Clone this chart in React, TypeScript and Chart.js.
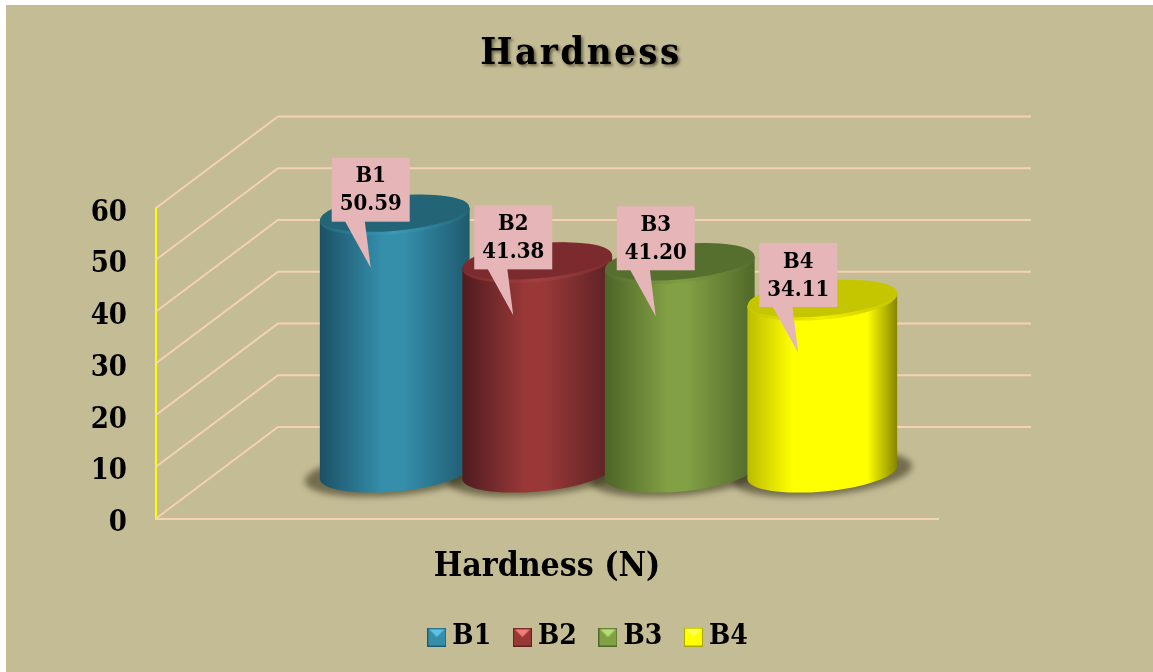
import React, { useEffect, useRef } from "react";
import { Chart, registerables } from "chart.js";

Chart.register(...registerables);

const categories = ["Hardness (N)"];
const seriesNames = ["B1", "B2", "B3", "B4"];
const b1Values = [50.59];
const b2Values = [41.38];
const b3Values = [41.2];
const b4Values = [34.11];
const chartTitle = "Hardness";
const seriesValues = [b1Values, b2Values, b3Values, b4Values];

const faceColors = ["#358fab", "#9a3838", "#82a044", "#ffff00"];
const edgeLeft = ["#1b5165", "#4f1c1f", "#4d6427", "#bcbc00"];
const edgeRight = ["#1f5a70", "#5a2124", "#506829", "#858500"];
const capColors = ["#236577", "#7b2b2d", "#566f2e", "#c6c600"];
const rimColors = ["#3d9ab8", "#a23f40", "#7e9d42", "#eeee00"];
const iconLight = ["#5cc3e4", "#f07c7c", "#b8dc78", "#ffff50"];
const iconDark = ["#1f5a70", "#5f2224", "#4f6628", "#a8a800"];
const faceStart = [0.42, 0.42, 0.42, 0.3];
const faceEnd = [0.55, 0.55, 0.55, 0.8];

const PAGE = "#c4bc95";
const FONT = "'DejaVu Serif Condensed', 'DejaVu Serif', serif";

function makeIcon(i: number) {
  const c = document.createElement("canvas");
  c.width = 19;
  c.height = 19;
  const g = c.getContext("2d")!;
  g.fillStyle = iconDark[i];
  g.fillRect(0, 0, 19, 19);
  g.fillStyle = faceColors[i];
  g.fillRect(1, 1, 17, 17);
  g.fillStyle = iconLight[i];
  g.beginPath();
  g.moveTo(2, 2);
  g.lineTo(17, 2);
  g.lineTo(9.5, 9.5);
  g.closePath();
  g.fill();
  return c;
}

const DX = 61.5;
const DY = 46;
const CAP_DY = 41.5;
const TILT = -0.09;
const RY = 19;

const scenePlugin = {
  id: "scene",
  afterLayout(chart: any) {
    const t = chart.titleBlock;
    t.left = 0;
    t.right = 1162;
    const l = chart.legend;
    l.left = 0;
    l.right = 1183.1;
    l.top = 593.3;
    l.bottom = 672;
    if (!t._patched) {
      t._patched = true;
      const d = t.draw.bind(t);
      t.draw = () => {
        const ctx = chart.ctx;
        ctx.save();
        ctx.letterSpacing = "2.5px";
        ctx.shadowColor = "rgba(30,30,10,0.55)";
        ctx.shadowOffsetX = 2;
        ctx.shadowOffsetY = 2;
        ctx.shadowBlur = 3;
        d();
        ctx.restore();
      };
    }
  },
  beforeDraw(chart: any) {
    const ctx = chart.ctx;
    ctx.save();
    ctx.fillStyle = "#ffffff";
    ctx.fillRect(0, 0, chart.width, chart.height);
    ctx.fillStyle = PAGE;
    ctx.fillRect(6, 5, chart.width - 6, chart.height - 5);
    ctx.restore();
  },
  beforeDatasetsDraw(chart: any) {
    const ctx = chart.ctx;
    const y = chart.scales.y;
    const { left } = chart.chartArea;
    ctx.save();
    ctx.strokeStyle = "#f5d2b2";
    ctx.lineWidth = 2;
    y.ticks.forEach((t: any) => {
      const py = y.getPixelForValue(t.value);
      ctx.beginPath();
      ctx.moveTo(left, py);
      ctx.lineTo(left + 122, py - 91.5);
      ctx.lineTo(1031, py - 91.5);
      ctx.stroke();
    });
    ctx.restore();
  },
  beforeDatasetDraw() {
    return false;
  },
  afterDatasetsDraw(chart: any) {
    const ctx = chart.ctx;
    const cos = Math.cos(TILT);
    const bars = seriesNames.map((_, i) => chart.getDatasetMeta(i).data[0]);

    bars.forEach((b: any) => {
      const cx = b.x + DX;
      const by = b.base - DY;
      const rx = b.width / 2;
      ctx.save();
      ctx.filter = "blur(3px)";
      ctx.fillStyle = "rgba(48,44,20,0.55)";
      ctx.beginPath();
      ctx.ellipse(cx, by + 1, rx + 15, RY + 3, TILT, 0, Math.PI * 2);
      ctx.fill();
      ctx.restore();
    });

    bars.forEach((b: any, i: number) => {
      const cx = b.x + DX;
      const by = b.base - DY;
      const ty = b.y - CAP_DY;
      const rx = b.width / 2;
      const g = ctx.createLinearGradient(cx - rx * cos, 0, cx + rx * cos, 0);
      g.addColorStop(0, edgeLeft[i]);
      g.addColorStop(faceStart[i], faceColors[i]);
      g.addColorStop(faceEnd[i], faceColors[i]);
      g.addColorStop(1, edgeRight[i]);
      ctx.save();
      ctx.fillStyle = g;
      ctx.beginPath();
      ctx.ellipse(cx, by, rx, RY, TILT, 0, Math.PI);
      ctx.ellipse(cx, ty, rx, RY, TILT, Math.PI, Math.PI * 2);
      ctx.closePath();
      ctx.fill();
      const rimG = ctx.createLinearGradient(cx - rx * cos, 0, cx + rx * cos, 0);
      rimG.addColorStop(0, capColors[i]);
      rimG.addColorStop(0.5, rimColors[i]);
      rimG.addColorStop(1, capColors[i]);
      ctx.fillStyle = rimG;
      ctx.beginPath();
      ctx.ellipse(cx, ty, rx, RY, TILT, 0, Math.PI * 2);
      ctx.fill();
      ctx.fillStyle = capColors[i];
      ctx.beginPath();
      ctx.ellipse(cx, ty - 2, rx - 0.5, RY - 1.5, TILT, 0, Math.PI * 2);
      ctx.fill();
      ctx.restore();
    });

    bars.forEach((b: any, i: number) => {
      const cx = b.x + DX;
      const ty = b.y - CAP_DY;
      const rl = cx - 63;
      const rt = ty - 57.5;
      ctx.save();
      ctx.fillStyle = "#e5b5b7";
      ctx.fillRect(rl, rt, 78, 64);
      ctx.beginPath();
      ctx.moveTo(rl + 13, rt + 63);
      ctx.lineTo(rl + 33, rt + 63);
      ctx.lineTo(rl + 39, rt + 110);
      ctx.closePath();
      ctx.fill();
      ctx.fillStyle = "#000";
      ctx.font = `bold 22px ${FONT}`;
      ctx.textAlign = "center";
      ctx.textBaseline = "middle";
      ctx.fillText(seriesNames[i], rl + 39, rt + 19);
      ctx.fillText(seriesValues[i][0].toFixed(2), rl + 39, rt + 47);
      ctx.restore();
    });
  },
};

export default function App() {
  const ref = useRef<HTMLCanvasElement>(null);
  useEffect(() => {
    const icons = seriesNames.map((_, i) => makeIcon(i));
    const chart = new Chart(ref.current!, {
      type: "bar",
      data: {
        labels: categories,
        datasets: seriesNames.map((n, i) => ({
          label: n,
          data: seriesValues[i],
          backgroundColor: faceColors[i],
          categoryPercentage: 0.729,
          barPercentage: 1.055,
        })),
      },
      options: {
        responsive: false,
        animation: false,
        layout: { padding: { left: 10, right: 215, top: 0, bottom: 0 } },
        scales: {
          x: {
            grid: { display: false, drawTicks: false },
            border: { display: true, color: "#f5d2b2", width: 2 },
            ticks: {
              color: "#000",
              padding: 29,
              maxRotation: 0,
              font: { family: FONT, weight: "bold", size: 33.5 },
            },
            afterFit(s: any) {
              s.height = 85.8;
            },
          },
          y: {
            min: 0,
            max: 60,
            grid: { display: false, drawTicks: false },
            border: { display: true, color: "#ffff00", width: 2 },
            ticks: {
              stepSize: 10,
              color: "#000",
              padding: 29,
              labelOffset: 5,
              font: { family: FONT, weight: "bold", size: 29 },
            },
            afterFit(s: any) {
              s.width = 146;
            },
          },
        },
        plugins: {
          tooltip: { enabled: false },
          title: {
            display: true,
            text: chartTitle,
            color: "#000",
            font: { family: FONT, weight: "bold", size: 38 },
            padding: { top: 31.8, bottom: 130.6 },
          },
          legend: {
            display: true,
            position: "bottom",
            labels: {
              color: "#000",
              font: { family: FONT, weight: "bold", size: 28 },
              usePointStyle: true,
              pointStyleWidth: 3,
              boxHeight: 19,
              padding: 29.7,
              generateLabels(c: any) {
                return Chart.defaults.plugins.legend.labels
                  .generateLabels(c)
                  .map((l: any, i: number) => ({ ...l, pointStyle: icons[i] }));
              },
            },
          },
        },
      },
      plugins: [scenePlugin],
    } as any);
    return () => chart.destroy();
  }, []);
  return (
    <div style={{ position: "fixed", left: 0, top: 0, width: 1153, height: 672, overflow: "hidden" }}>
      <canvas ref={ref} width={1153} height={672} style={{ display: "block" }} />
    </div>
  );
}
